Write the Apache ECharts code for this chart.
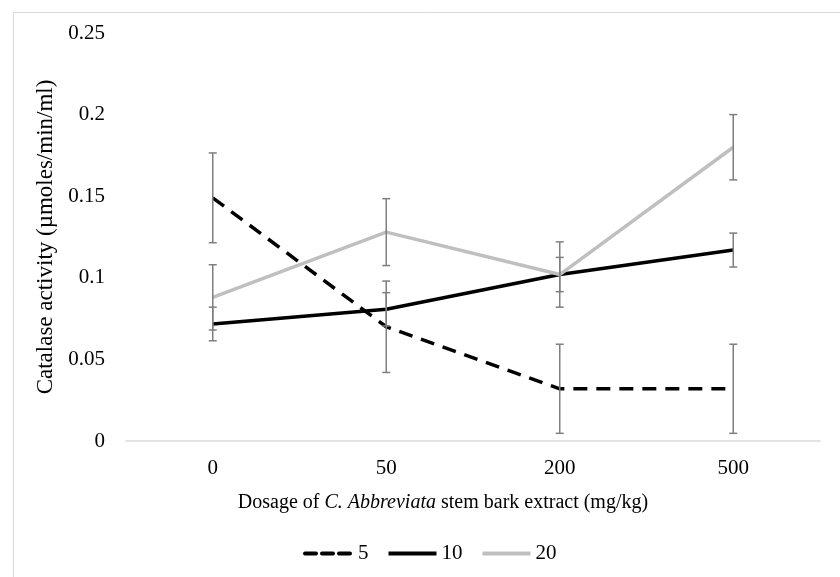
<!DOCTYPE html>
<html>
<head>
<meta charset="utf-8">
<title>Catalase activity</title>
<script src="https://cdn.jsdelivr.net/npm/echarts@6/dist/echarts.min.js"></script>
<style>
  html, body { margin: 0; padding: 0; background: #fff; }
  #chartDiv { width: 840px; height: 577px; }
</style>
</head>
<body>
<div id="chartDiv"></div>
<script>
// dosage categories (mg/kg)
var categories = ['0', '50', '200', '500'];
var seriesNames = ['5', '10', '20'];

// mean catalase activity per group
var values5 = [0.149, 0.070, 0.032, 0.032];
var values10 = [0.0717, 0.0807, 0.102, 0.117];
var values20 = [0.088, 0.128, 0.102, 0.180];

// error bar half-heights
var err5 = [0.0275, 0.028, 0.0273, 0.0273];
var err10 = [0.0103, 0.0102, 0.0105, 0.0104];
var err20 = [0.020, 0.0205, 0.020, 0.020];

var yTicks = [0, 0.05, 0.1, 0.15, 0.2, 0.25];

var font = 'Liberation Serif';

// build error bar data: [categoryIndex, low, high]
function errData(vals, errs) {
    var out = [];
    for (var i = 0; i < vals.length; i++) {
        out.push([i, vals[i] - errs[i], vals[i] + errs[i]]);
    }
    return out;
}

function renderErr(params, api) {
    var x = api.value(0);
    var lo = api.coord([x, api.value(1)]);
    var hi = api.coord([x, api.value(2)]);
    var cap = 4;
    var style = { stroke: '#7f7f7f', lineWidth: 1.5 };
    return {
        type: 'group',
        children: [
            { type: 'line', shape: { x1: lo[0], y1: lo[1], x2: hi[0], y2: hi[1] }, style: style },
            { type: 'line', shape: { x1: hi[0] - cap, y1: hi[1], x2: hi[0] + cap, y2: hi[1] }, style: style },
            { type: 'line', shape: { x1: lo[0] - cap, y1: lo[1], x2: lo[0] + cap, y2: lo[1] }, style: style }
        ]
    };
}

var myChart = echarts.init(document.getElementById('chartDiv'));
var option = {
    animation: false,
    backgroundColor: '#fff',
    textStyle: { fontFamily: font, color: '#000' },
    graphic: [{
        type: 'rect',
        left: 11, top: 10,
        shape: { width: 900, height: 700 },
        style: { fill: 'none', stroke: '#d9d9d9', lineWidth: 1 },
        silent: true
    }],
    grid: { left: 126, right: 20, top: 33, bottom: 136 },
    legend: {
        data: [
            { name: '5', lineStyle: { type: [11, 6], width: 4, cap: 'round' } },
            { name: '10', lineStyle: { width: 4 } },
            { name: '20', lineStyle: { width: 4 } }
        ],
        bottom: 8,
        left: 298,
        itemWidth: 48,
        itemHeight: 12,
        itemGap: 18,
        itemStyle: { opacity: 0 },
        textStyle: { fontFamily: font, fontSize: 21, color: '#000' }
    },
    xAxis: {
        type: 'category',
        data: categories,
        boundaryGap: true,
        axisLine: { lineStyle: { color: '#d9d9d9', width: 1.5 } },
        axisTick: { show: false },
        axisLabel: { fontFamily: font, fontSize: 21, color: '#000', margin: 17 },
        name: 'Dosage of {i|C. Abbreviata} stem bark extract (mg/kg)',
        nameLocation: 'middle',
        nameGap: 52,
        nameTextStyle: {
            fontFamily: font, fontSize: 20, color: '#000',
            padding: [0, 60, 0, 0],
            rich: { i: { fontFamily: font, fontSize: 20, fontStyle: 'italic', color: '#000' } }
        }
    },
    yAxis: {
        type: 'value',
        min: yTicks[0],
        max: yTicks[yTicks.length - 1],
        interval: 0.05,
        splitLine: { show: false },
        axisLine: { show: false },
        axisTick: { show: false },
        axisLabel: { fontFamily: font, fontSize: 21, color: '#000', margin: 21 },
        name: 'Catalase activity (µmoles/min/ml)',
        nameLocation: 'middle',
        nameGap: 52,
        nameTextStyle: { fontFamily: font, fontSize: 23, color: '#000' }
    },
    series: [
        {
            name: '5', type: 'line', data: values5, symbol: 'none',
            color: '#000',
            lineStyle: { color: '#000', width: 3.5, type: [14, 9] },
            z: 3
        },
        {
            name: '10', type: 'line', data: values10, symbol: 'none',
            color: '#000',
            lineStyle: { color: '#000', width: 3.5 },
            z: 3
        },
        {
            name: '20', type: 'line', data: values20, symbol: 'none',
            color: '#bfbfbf',
            lineStyle: { color: '#bfbfbf', width: 3.5 },
            z: 4
        },
        { type: 'custom', renderItem: renderErr, data: errData(values5, err5), z: 5, silent: true },
        { type: 'custom', renderItem: renderErr, data: errData(values10, err10), z: 5, silent: true },
        { type: 'custom', renderItem: renderErr, data: errData(values20, err20), z: 5, silent: true }
    ]
};
myChart.setOption(option);
</script>
</body>
</html>
